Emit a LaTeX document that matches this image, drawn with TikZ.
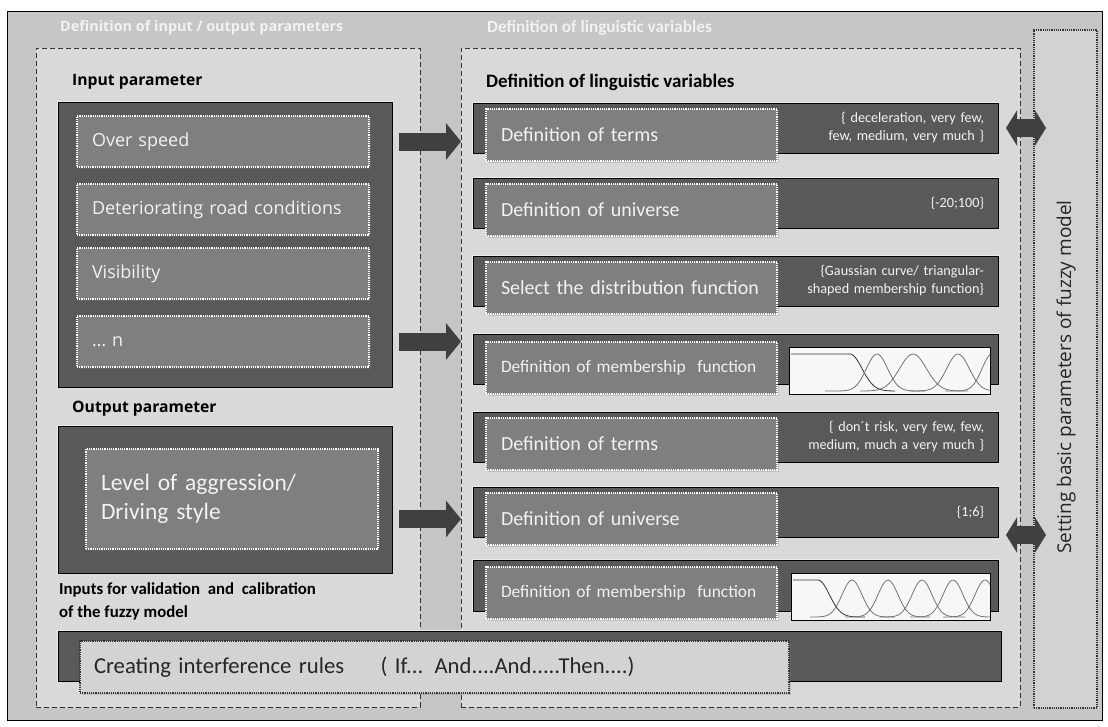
\documentclass[tikz,border=0pt]{standalone}
\usepackage{fontspec}
\setmainfont{Carlito}
\newfontfamily\tahomafont{Open Sans}
\usepackage{xcolor}
\usepackage{tikz}
\usetikzlibrary{positioning,arrows.meta,shadows}

\definecolor{framegray}{HTML}{C6C6C6}
\definecolor{panelgray}{HTML}{D9D9D9}
\definecolor{bardark}{HTML}{595959}
\definecolor{itemgray}{HTML}{7F7F7F}
\definecolor{arrowgray}{HTML}{404040}
\definecolor{rulegray}{HTML}{D3D3D3}
\definecolor{setgray}{HTML}{D2D2D2}
\definecolor{labelwhite}{HTML}{F2F2F2}
\definecolor{inkgray}{HTML}{262626}

\tikzset{
  box/.style={anchor=north west, inner sep=0pt, outer sep=0pt},
  frame/.style={box, draw=black, fill=framegray, line width=0.8pt},
  panel/.style={box, draw=black!80, fill=panelgray, line width=0.9pt, dash pattern=on 5pt off 3pt},
  setpanel/.style={box, draw=black!80, fill=setgray, line width=1.2pt, densely dotted},
  darkbox/.style={box, draw=black, fill=bardark, line width=0.8pt, preaction={draw=white!92!black, line width=2.6pt}},
  bar/.style={darkbox, minimum height=50pt, text width=497pt, inner xsep=14pt, align=right,
    text=labelwhite, font=\fontsize{14.2}{18}\selectfont},
  itembox/.style={box, draw=white, fill=itemgray, line width=1.2pt, densely dotted, minimum height=51pt,
    inner xsep=15pt, align=left, text=labelwhite,
    drop shadow={shadow xshift=1.5pt, shadow yshift=-1.5pt, opacity=0.3}},
  initem/.style={itembox, text width=262pt, font=\tahomafont\fontsize{18}{22}\selectfont},
  lingitem/.style={itembox, minimum height=52pt, text width=261pt, font=\fontsize{20}{24}\selectfont},
  chartbox/.style={box, draw=black, fill=white!97!black, line width=0.9pt, minimum width=201pt, minimum height=47pt},
  curve/.style={draw=black!55, line width=0.8pt},
  hdr/.style={anchor=west, inner sep=0pt, text=labelwhite},
  title/.style={anchor=west, inner sep=0pt, text=black},
  bigarrow/.style={draw=arrowgray, line width=18pt, -{Triangle[length=15pt,width=36pt]}},
  dblarrow/.style={draw=arrowgray, line width=18pt, {Triangle[length=11pt,width=35pt]}-{Triangle[length=11pt,width=35pt]}},
}

\begin{document}
\begin{tikzpicture}[x=1pt,y=-1pt]
\useasboundingbox (0,0) rectangle (1108,726);

% frame and the three panels
\node[frame, minimum width=1095pt, minimum height=709pt] (frame) at (7,11) {};
\node[panel, minimum width=384pt, minimum height=659pt] (iopanel) at (36,48) {};
\node[panel, minimum width=559pt, minimum height=659pt] (lingpanel) at (461,48) {};
\node[setpanel, minimum width=63pt, minimum height=678pt] (setpanel) at (1034,30) {};

\node[hdr, font=\tahomafont\bfseries\fontsize{14.4}{16}\selectfont] (iohead) at (60,28) {Definition of input / output parameters};
\node[hdr, font=\bfseries\fontsize{17.2}{19}\selectfont] (linghead) at (487,28) {Definition of linguistic variables};
\node[rotate=90, text=inkgray, font=\tahomafont\fontsize{19}{22}\selectfont] (settext) at (1066,377) {Setting basic parameters of fuzzy model};

% input / output parameters
\node[title, font=\tahomafont\bfseries\fontsize{15.7}{18}\selectfont] (inhead) at (72,82) {Input parameter};
\node[darkbox, minimum width=334pt, minimum height=285pt] (inbox) at (58,102) {};
\node[initem] (over) at (77,116) {Over speed};
\node[initem] (road) at (77,184) {Deteriorating road conditions};
\node[initem] (visib) at (77,248) {Visibility};
\node[initem] (more) at (77,316) {\dots\ n};

\node[title, font=\tahomafont\bfseries\fontsize{15.7}{18}\selectfont] (outhead) at (72,409) {Output parameter};
\node[darkbox, minimum width=334pt, minimum height=147pt] (outbox) at (58,426) {};
\node[itembox, minimum height=100pt, text width=262pt, font=\fontsize{23.5}{29}\selectfont] (aggr) at (86,449) {Level of aggression/\\Driving style};

\node[title, align=left, font=\bfseries\fontsize{16.8}{23}\selectfont] (valid) at (59,601) {Inputs for validation\ \ and\ \ calibration\\ of the fuzzy model};

% linguistic variables
\node[title, font=\bfseries\fontsize{19}{21}\selectfont] (linghead2) at (486,82) {Definition of linguistic variables};

\node[bar] (barA) at (473,103) {\{ deceleration, very few,\\few, medium, very much \}};
\node[bar] (barB) at (473,178) {\{-20;100\}};
\node[bar] (barC) at (473,256) {\{Gaussian curve/ triangular-\\shaped membership function\}};
\node[bar] (barD) at (473,334) {};
\node[bar] (barE) at (473,412) {\{ don´t risk, very few, few,\\medium, much a very much \}};
\node[bar] (barF) at (473,487) {\{1;6\}};
\node[bar, minimum height=51pt] (barG) at (473,560) {};

\node[lingitem] (termsA) at (486,109) {Definition of terms};
\node[lingitem] (univA) at (486,184) {Definition of universe};
\node[lingitem] (distr) at (486,262) {Select the distribution function};
\node[lingitem, font=\fontsize{17.4}{21}\selectfont] (memberA) at (486,342) {Definition of membership\ \ function};
\node[lingitem] (termsB) at (486,418) {Definition of terms};
\node[lingitem] (univB) at (486,493) {Definition of universe};
\node[lingitem, font=\fontsize{17.4}{21}\selectfont] (memberB) at (486,567) {Definition of membership\ \ function};

% membership function charts
\node[chartbox] (chartA) at (789,347) {};
\begin{scope}
\clip (chartA.north west) rectangle (chartA.south east);
\draw[curve, draw=black!80] plot[domain=791:895, samples=60] (\x,{\x<850 ? 354 : 391-37*exp(-((\x-850)/17)^2)});
\draw[curve] plot[domain=825:925, samples=50] (\x,{391-37*exp(-((\x-877)/15)^2)});
\draw[curve] plot[domain=860:968, samples=50] (\x,{391-37*exp(-((\x-913)/19)^2)});
\draw[curve] plot[domain=910:995, samples=50] (\x,{391-37*exp(-((\x-958)/16)^2)});
\draw[curve] plot[domain=945:995, samples=30] (\x,{391-37*exp(-((\x-992)/14)^2)});
\end{scope}

\node[chartbox, minimum width=199pt] (chartB) at (791,573) {};
\begin{scope}
\clip (chartB.north west) rectangle (chartB.south east);
\draw[curve, draw=black!80] plot[domain=793:865, samples=50] (\x,{\x<818 ? 580 : 617-37*exp(-((\x-818)/16)^2)});
\draw[curve] plot[domain=810:895, samples=40] (\x,{617-37*exp(-((\x-852)/14)^2)});
\draw[curve] plot[domain=845:930, samples=40] (\x,{617-37*exp(-((\x-888)/14)^2)});
\draw[curve] plot[domain=880:965, samples=40] (\x,{617-37*exp(-((\x-922)/14)^2)});
\draw[curve] plot[domain=910:992, samples=40] (\x,{617-37*exp(-((\x-953)/14)^2)});
\draw[curve] plot[domain=943:992, samples=30] (\x,{617-37*exp(-((\x-985)/14)^2)});
\end{scope}

% inference rules
\node[darkbox, minimum width=943pt, minimum height=50pt] (rulebar) at (58,631) {};
\node[box, draw=black!80, fill=rulegray, line width=1.2pt, densely dotted, minimum width=709pt, minimum height=52pt,
  text width=681pt, inner xsep=14pt, align=left, text=inkgray, font=\fontsize{22.7}{26}\selectfont,
  drop shadow={shadow xshift=1.5pt, shadow yshift=-1.5pt, opacity=0.3}] (rules) at (80,641)
  {Creating interference rules\hspace{1.6em}( If... And....And.....Then....)};

% arrows
\coordinate (linkB) at (1020,535);
\draw[bigarrow] ([xshift=7pt]inbox.east |- over) -- (lingpanel.west |- over);
\draw[bigarrow] ([xshift=7pt]inbox.east |- more) -- (lingpanel.west |- more);
\draw[bigarrow] ([xshift=7pt]outbox.east |- univB) -- (lingpanel.west |- univB);
\draw[dblarrow] ([xshift=-14pt]lingpanel.east |- barA) -- ([xshift=12pt]setpanel.west |- barA);
\draw[dblarrow] ([xshift=-14pt]linkB) -- ([xshift=12pt]setpanel.west |- linkB);
\end{tikzpicture}
\end{document}
